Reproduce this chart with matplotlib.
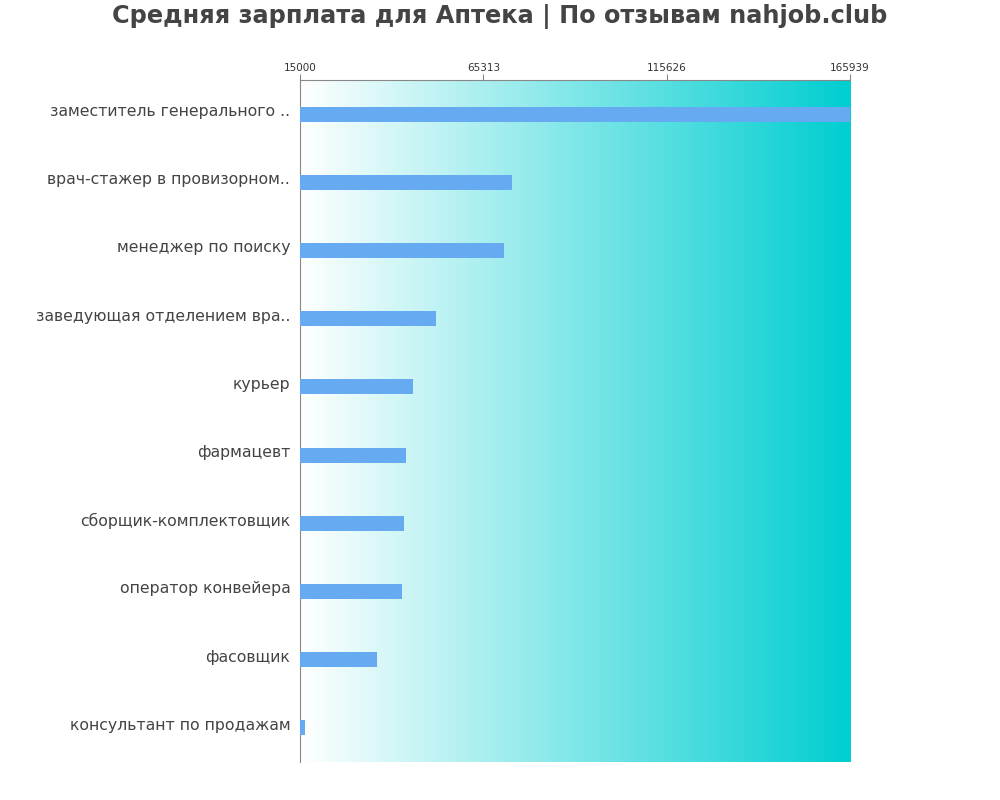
import matplotlib.pyplot as plt
import numpy as np
from matplotlib.colors import LinearSegmentedColormap
import matplotlib.transforms as mtransforms

# average salary by position
jobs = ['заместитель генерального ..', 'врач-стажер в провизорном..', 'менеджер по поиску',
        'заведующая отделением вра..', 'курьер', 'фармацевт', 'сборщик-комплектовщик',
        'оператор конвейера', 'фасовщик', 'консультант по продажам']
salary = [165939, 73200, 71000, 52300, 46000, 44100, 43500, 43000, 36100, 16400]
ticks = [15000, 65313, 115626, 165939]

fig = plt.figure(figsize=(10, 8), dpi=100)
ax = fig.add_axes([0.3, 0.0475, 0.55, 0.8525])

y = np.arange(len(jobs))
ax.barh(y, np.array(salary) - ticks[0], left=ticks[0], height=0.22, color='#66aaf2', zorder=3)

# background gradient white -> cyan
cmap = LinearSegmentedColormap.from_list('bg', ['#ffffff', '#00ced1'])
grad = np.linspace(0, 1, 256).reshape(1, -1)
ax.imshow(grad, aspect='auto', cmap=cmap, extent=[ticks[0], ticks[-1], len(jobs) - 0.5, -0.5], zorder=0)

ax.set_xlim(ticks[0], ticks[-1])
ax.set_ylim(len(jobs) - 0.5, -0.5)
ax.xaxis.tick_top()
ax.set_xticks(ticks)
ax.set_xticklabels([str(t) for t in ticks], fontsize=7.5, color='#333333')
ax.tick_params(axis='x', length=4, color='#888888', pad=1)
ax.set_yticks(y)
ax.set_yticklabels(jobs, fontsize=11.3, color='#444444')
ax.tick_params(axis='y', length=0, pad=7)
offset = mtransforms.ScaledTranslation(0, 4 / 100, fig.dpi_scale_trans)
for lbl in ax.get_yticklabels():
    lbl.set_transform(lbl.get_transform() + offset)

for s in ['right', 'bottom']:
    ax.spines[s].set_visible(False)
for s in ['left', 'top']:
    ax.spines[s].set_color('#888888')

fig.text(0.5, 0.995, 'Средняя зарплата для Аптека | По отзывам nahjob.club', ha='center', va='top',
         fontsize=17.3, fontweight='bold', color='#444444')

fig.savefig('out.png')
